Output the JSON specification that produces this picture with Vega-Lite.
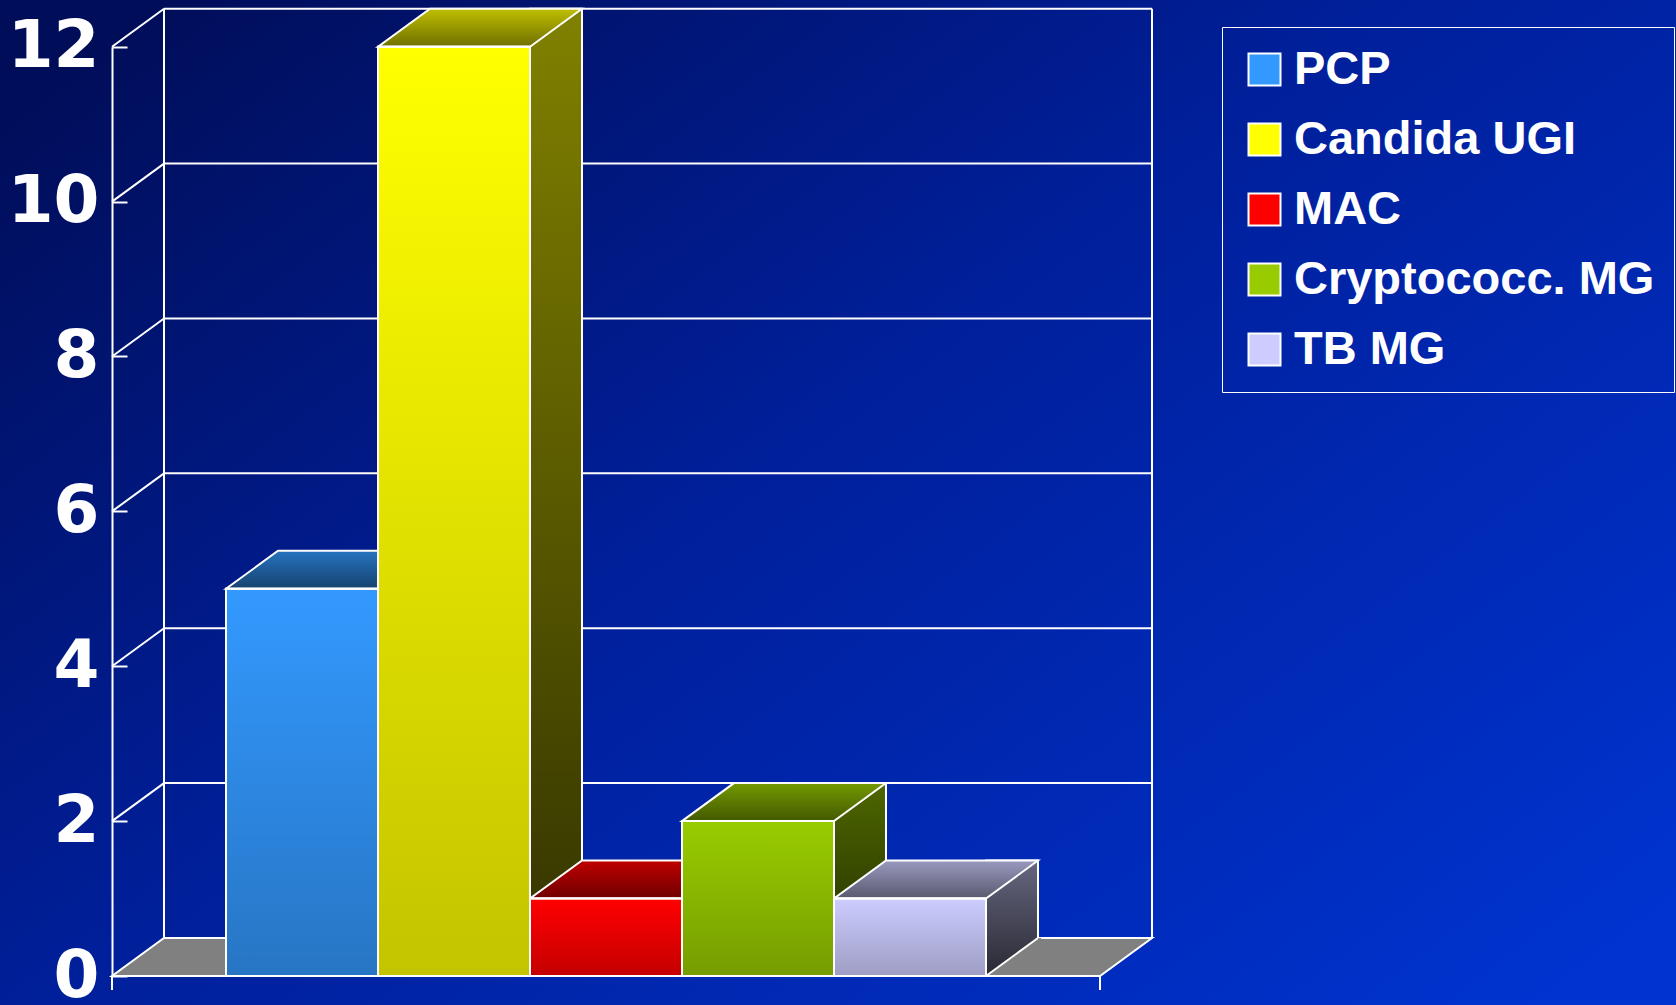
{
  "$schema": "https://vega.github.io/schema/vega-lite/v6.json",
  "width": 1676,
  "height": 1005,
  "autosize": "none",
  "padding": 0,
  "config": {
    "view": {"stroke": null, "fill": {"gradient": "linear", "x1": 0, "y1": 0.1, "x2": 1, "y2": 0.9, "stops": [{"offset": 0, "color": "#000d58"}, {"offset": 0.45, "color": "#001f9a"}, {"offset": 1, "color": "#0033cf"}]}},
    "axisY": {"offset": -112, "domainColor": "white", "domainWidth": 2, "tickColor": "white", "tickWidth": 2, "tickSize": -15, "labelFont": "DejaVu Sans", "labelFontWeight": "bold", "labelFontSize": 66, "labelColor": "white", "labelPadding": 28, "tickCount": 6, "grid": false, "labelFlush": false, "labelOverlap": false},
    "legend": {"symbolType": "square", "symbolSize": 1024, "symbolStrokeColor": "white", "symbolStrokeWidth": 2, "labelFont": "Liberation Sans", "labelFontWeight": "bold", "labelFontSize": 47, "labelColor": "white", "labelOffset": 6, "rowPadding": 22, "padding": 19, "strokeColor": "white", "labelLimit": 1000}
  },
  "resolve": {"scale": {"x": "independent"}},
  "layer": [
    {
      "layer": [
        {
          "data": {"values": [{"v": 0}]},
          "mark": {"type": "point", "shape": "M0,0 L988,0 L1040,-38 L52,-38 Z", "size": 4, "filled": true, "fill": "#808080", "stroke": "white", "strokeWidth": 2, "opacity": 1},
          "encoding": {
            "x": {"datum": 0, "type": "quantitative", "scale": {"domain": [0, 6.5], "range": [112, 1100]}, "axis": null},
            "y": {"field": "v", "type": "quantitative", "title": null, "scale": {"domain": [0, 12], "range": [976, 46.7], "nice": false}}
          }
        },
        {
          "data": {"values": [{"v": 2}, {"v": 4}, {"v": 6}, {"v": 8}, {"v": 10}, {"v": 12}]},
          "mark": {"type": "rule", "color": "white", "strokeWidth": 2, "xOffset": 52, "x2Offset": 52, "yOffset": -38, "y2Offset": -38},
          "encoding": {
            "x": {"datum": 0, "type": "quantitative", "axis": null},
            "x2": {"datum": 6.5},
            "y": {"field": "v", "type": "quantitative", "title": null},
            "y2": {"field": "v"}
          }
        },
        {
          "data": {"values": [{"v": 2}, {"v": 4}, {"v": 6}, {"v": 8}, {"v": 10}, {"v": 12}]},
          "mark": {"type": "rule", "color": "white", "strokeWidth": 2, "x2Offset": 52, "y2Offset": -38},
          "encoding": {
            "x": {"datum": 0, "type": "quantitative", "axis": null},
            "x2": {"datum": 0},
            "y": {"field": "v", "type": "quantitative", "title": null},
            "y2": {"field": "v"}
          }
        },
        {
          "data": {"values": [{"v": 0}]},
          "mark": {"type": "rule", "color": "white", "strokeWidth": 2, "xOffset": 52, "yOffset": -38, "y2Offset": -38},
          "encoding": {
            "x": {"datum": 0, "type": "quantitative", "axis": null},
            "y": {"field": "v", "type": "quantitative", "title": null},
            "y2": {"datum": 12}
          }
        },
        {
          "data": {"values": [{"v": 0}]},
          "mark": {"type": "rule", "color": "white", "strokeWidth": 2, "xOffset": 52, "yOffset": -38, "y2Offset": -38},
          "encoding": {
            "x": {"datum": 6.5, "type": "quantitative", "axis": null},
            "y": {"field": "v", "type": "quantitative", "title": null},
            "y2": {"datum": 12}
          }
        },
        {
          "data": {"values": [{"v": 0}]},
          "mark": {"type": "rule", "color": "white", "strokeWidth": 2, "y2Offset": 14},
          "encoding": {
            "x": {"datum": 0, "type": "quantitative", "axis": null},
            "y": {"field": "v", "type": "quantitative", "title": null},
            "y2": {"field": "v"}
          }
        },
        {
          "data": {"values": [{"v": 0}]},
          "mark": {"type": "rule", "color": "white", "strokeWidth": 2, "y2Offset": 14},
          "encoding": {
            "x": {"datum": 6.5, "type": "quantitative", "axis": null},
            "y": {"field": "v", "type": "quantitative", "title": null},
            "y2": {"field": "v"}
          }
        }
      ]
    },
    {
      "data": {"values": [
        {"cat": "PCP", "value": 5},
        {"cat": "Candida UGI", "value": 12},
        {"cat": "MAC", "value": 1},
        {"cat": "Cryptococc. MG", "value": 2},
        {"cat": "TB MG", "value": 1}
      ]},
      "resolve": {"scale": {"color": "independent"}},
      "encoding": {
        "x": {"field": "cat", "type": "nominal", "sort": null, "axis": null, "scale": {"type": "band", "domain": ["PCP", "Candida UGI", "MAC", "Cryptococc. MG", "TB MG"], "range": [112, 1100], "paddingInner": 0, "paddingOuter": 0.75}}
      },
      "layer": [
        {
          "mark": {"type": "bar", "width": 52, "xOffset": 102, "yOffset": -38},
          "encoding": {
            "y": {"field": "value", "type": "quantitative", "title": null},
            "y2": {"datum": 0},
            "color": {"field": "cat", "type": "nominal", "legend": null, "scale": {"domain": ["PCP", "Candida UGI", "MAC", "Cryptococc. MG", "TB MG"], "range": ["#1a4d80", "#808000", "#800000", "#4d6600", "#666680"]}}
          }
        },
        {
          "mark": {"type": "bar", "width": 52, "xOffset": 102, "yOffset": -38, "stroke": "white", "strokeWidth": 2, "fill": {"gradient": "linear", "x1": 0, "y1": 0, "x2": 0, "y2": 1, "stops": [{"offset": 0, "color": "rgba(0,0,0,0)"}, {"offset": 1, "color": "rgba(0,0,0,0.6)"}]}},
          "encoding": {
            "y": {"field": "value", "type": "quantitative", "title": null},
            "y2": {"datum": 0}
          }
        },
        {
          "mark": {"type": "point", "shape": "M76,-1 L127,-38 L131,-38 L131,-1 Z", "size": 4, "filled": true, "fill": "#808080", "strokeWidth": 0, "opacity": 1},
          "encoding": {
            "y": {"datum": 0, "type": "quantitative", "title": null}
          }
        },
        {
          "mark": {"type": "point", "shape": "M76,0 L128,-38", "size": 4, "filled": false, "stroke": "white", "strokeWidth": 2, "opacity": 1},
          "encoding": {
            "y": {"datum": 0, "type": "quantitative", "title": null}
          }
        },
        {
          "mark": {"type": "point", "shape": "M-76,0 L76,0 L128,-38 L-24,-38 Z", "size": 4, "filled": true, "opacity": 1, "strokeWidth": 0},
          "encoding": {
            "y": {"field": "value", "type": "quantitative", "title": null},
            "color": {"field": "cat", "type": "nominal", "legend": null, "scale": {"domain": ["PCP", "Candida UGI", "MAC", "Cryptococc. MG", "TB MG"], "range": ["#2673bf", "#bfbf00", "#bf0000", "#739900", "#9999bf"]}}
          }
        },
        {
          "mark": {"type": "point", "shape": "M-76,0 L76,0 L128,-38 L-24,-38 Z", "size": 4, "filled": true, "opacity": 1, "stroke": "white", "strokeWidth": 2, "fill": {"gradient": "linear", "x1": 0, "y1": 0, "x2": 0, "y2": 1, "stops": [{"offset": 0, "color": "rgba(0,0,0,0)"}, {"offset": 1, "color": "rgba(0,0,0,0.42)"}]}},
          "encoding": {
            "y": {"field": "value", "type": "quantitative", "title": null}
          }
        },
        {
          "mark": {"type": "bar", "stroke": "white", "strokeWidth": 2},
          "encoding": {
            "y": {"field": "value", "type": "quantitative", "title": null},
            "y2": {"datum": 0},
            "color": {"field": "cat", "type": "nominal", "scale": {"domain": ["PCP", "Candida UGI", "MAC", "Cryptococc. MG", "TB MG"], "range": ["#3399ff", "#ffff00", "#ff0000", "#99cc00", "#ccccff"]}, "legend": {"orient": "none", "legendX": 1222, "legendY": 27, "title": null}}
          }
        },
        {
          "mark": {"type": "bar", "stroke": "white", "strokeWidth": 2, "fill": {"gradient": "linear", "x1": 0, "y1": 0, "x2": 0, "y2": 1, "stops": [{"offset": 0, "color": "rgba(0,0,0,0)"}, {"offset": 1, "color": "rgba(0,0,0,0.23)"}]}},
          "encoding": {
            "y": {"field": "value", "type": "quantitative", "title": null},
            "y2": {"datum": 0}
          }
        }
      ]
    }
  ]
}
